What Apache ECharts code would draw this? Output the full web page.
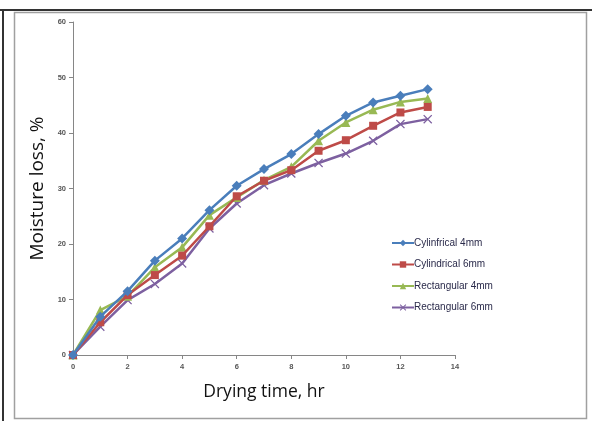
<!DOCTYPE html>
<html><head><meta charset="utf-8">
<script src="https://cdn.jsdelivr.net/npm/echarts@6/dist/echarts.min.js"></script>
<style>html,body{margin:0;padding:0;background:#fff;}#c{width:592px;height:421px;}</style>
</head><body><div id="c"></div>
<script>
var hours = [0,1,2,3,4,5,6,7,8,9,10,11,12,13];
var cyl4 = [0,6.9,11.5,17.0,21.0,26.1,30.5,33.5,36.2,39.8,43.1,45.5,46.7,47.9];
var cyl6 = [0,5.9,10.8,14.4,17.9,23.2,28.6,31.4,33.3,36.8,38.7,41.3,43.7,44.7];
var rect4 = [0,8.1,10.6,15.8,19.4,25.2,28.4,31.5,33.9,38.6,41.9,44.2,45.6,46.2];
var rect6 = [0,5.1,9.9,12.8,16.5,22.8,27.3,30.6,32.7,34.6,36.3,38.6,41.6,42.5];
var seriesNames = ['Cylinfrical 4mm','Cylindrical 6mm','Rectangular 4mm','Rectangular 6mm'];
var xTicks = [0,2,4,6,8,10,12,14];
var yTicks = [0,10,20,30,40,50,60];

function pairs(arr){ return arr.map(function(v,i){ return [hours[i], v]; }); }
var xShape = 'path://M0,1L1,0L5,4L9,0L10,1L6,5L10,9L9,10L5,6L1,10L0,9L4,5Z';
var colors = ['#4A7EBB','#BE4B48','#98B954','#7D60A0'];
var symbols = ['diamond','rect','triangle',xShape];
var sizes = [10,8,9,9];
var datas = [cyl4,cyl6,rect4,rect6];

var chart = echarts.init(document.getElementById('c'));
chart.setOption({
  animation:false,
  backgroundColor:'#fff',
  grid:{left:73,right:137,top:22,bottom:66},
  graphic:[
    {type:'line',shape:{x1:0,y1:10,x2:592,y2:10},style:{stroke:'#333',lineWidth:2}},
    {type:'line',shape:{x1:3,y1:10,x2:3,y2:421},style:{stroke:'#333',lineWidth:2}},
    {type:'rect',shape:{x:14.5,y:12.5,width:572,height:406},style:{fill:'none',stroke:'#a0a0a0',lineWidth:1.5}}
  ],
  legend:{
    orient:'vertical',left:391,top:238,padding:0,itemWidth:22,itemHeight:8,itemGap:11.5,
    textStyle:{fontSize:10,color:'#2a2a4a',fontFamily:'Liberation Sans',padding:[0,0,0,-5]},
    data:seriesNames
  },
  xAxis:{
    type:'value',min:0,max:14,interval:2,
    name:'Drying time, hr',nameLocation:'middle',nameGap:28,
    nameTextStyle:{fontSize:17.5,color:'#111',fontFamily:'Open Sans'},
    axisLine:{lineStyle:{color:'#868686',width:1}},
    axisTick:{show:true,length:4,lineStyle:{color:'#868686'}},
    axisLabel:{fontSize:7.5,color:'#555',fontWeight:'bold',margin:8,fontFamily:'Liberation Sans'},
    splitLine:{show:false}
  },
  yAxis:{
    type:'value',min:0,max:60,interval:10,
    name:'Moisture loss, %',nameLocation:'middle',nameGap:23,
    nameTextStyle:{fontSize:19,color:'#111',fontFamily:'Open Sans'},
    axisLine:{show:true,lineStyle:{color:'#868686',width:1}},
    axisTick:{show:true,length:4,lineStyle:{color:'#868686'}},
    axisLabel:{fontSize:7.5,color:'#555',fontWeight:'bold',margin:7,fontFamily:'Liberation Sans'},
    splitLine:{show:false}
  },
  series: datas.map(function(d,i){
    return {
      name:seriesNames[i],type:'line',data:pairs(d),
      symbol:symbols[i],symbolSize:sizes[i],
      lineStyle:{color:colors[i],width:2.5},
      itemStyle:{color:colors[i]},
      z: 10-i
    };
  })
});
</script></body></html>
